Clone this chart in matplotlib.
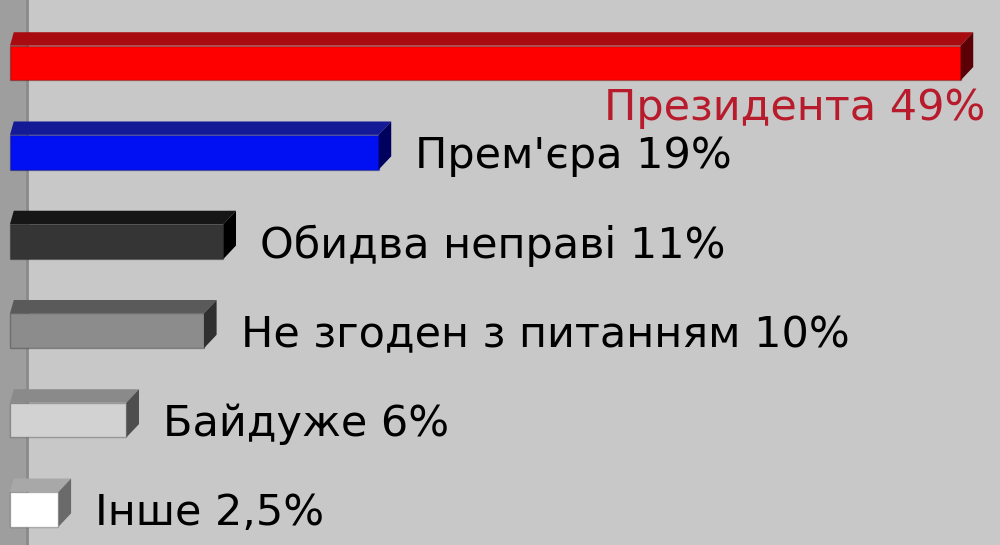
import matplotlib
matplotlib.use("Agg")
import matplotlib.pyplot as plt
from matplotlib.patches import Polygon

# Poll answers and shares (%)
answers = ["Президента", "Прем'єра", "Обидва неправі", "Не згоден з питанням", "Байдуже", "Інше"]
shares = [49, 19, 11, 10, 6, 2.5]

# face / top / side colours of each 3D bar
front_colors = ["#ff0000", "#0010f2", "#353535", "#8c8c8c", "#d2d2d2", "#ffffff"]
top_colors = ["#a80c10", "#141a96", "#161616", "#5a5a5a", "#8a8a8a", "#a8a8a8"]
side_colors = ["#5a0006", "#00005e", "#000000", "#303030", "#4e4e4e", "#6a6a6a"]

fig = plt.figure(figsize=(10, 5.45), dpi=100)
fig.patch.set_facecolor("#c8c8c8")
ax = fig.add_axes([0, 0, 1, 1])
ax.set_facecolor("#c8c8c8")

# left wall of the chart
ax.axvspan(-1, 0.9, color="#9e9e9e", zorder=0)
ax.axvline(0.9, color="#8a8a8a", lw=2, zorder=0)

ypos = list(range(len(shares)))
front_h = 0.39
dx, dy = 0.65, 0.15  # depth of the 3D effect, in data units

bars = ax.barh(ypos, shares, height=front_h, color=front_colors,
               edgecolor="#00000040", linewidth=1, zorder=3)
ax.invert_yaxis()

for bar, top_c, side_c in zip(bars, top_colors, side_colors):
    x0 = bar.get_x()
    x1 = x0 + bar.get_width()
    y_top = bar.get_y()               # upper edge after invert
    y_bot = y_top + bar.get_height()
    top = Polygon([(x0, y_top), (x1, y_top), (x1 + dx, y_top - dy), (x0 + dx * 0.3, y_top - dy)],
                  closed=True, facecolor=top_c, edgecolor="none", zorder=3)
    side = Polygon([(x1, y_top), (x1 + dx, y_top - dy), (x1 + dx, y_bot - dy), (x1, y_bot)],
                   closed=True, facecolor=side_c, edgecolor="none", zorder=3)
    ax.add_patch(top)
    ax.add_patch(side)

for i, (name, v) in enumerate(zip(answers, shares)):
    pct = f"{v:g}".replace(".", ",") + "%"
    label = f"{name} {pct}"
    if i == 0:
        ax.text(v + 1.3, i + 0.64, label, ha="right", va="baseline",
                fontsize=31, color="#b81c2c", zorder=4)
    else:
        ax.text(v + 1.9, i + 0.18, label, ha="left", va="baseline",
                fontsize=31, color="black", zorder=4)

ax.set_xlim(-0.515, 51.03)
ax.set_ylim(5.40, -0.706)
ax.axis("off")

fig.savefig("out.png", dpi=100, facecolor=fig.get_facecolor())
